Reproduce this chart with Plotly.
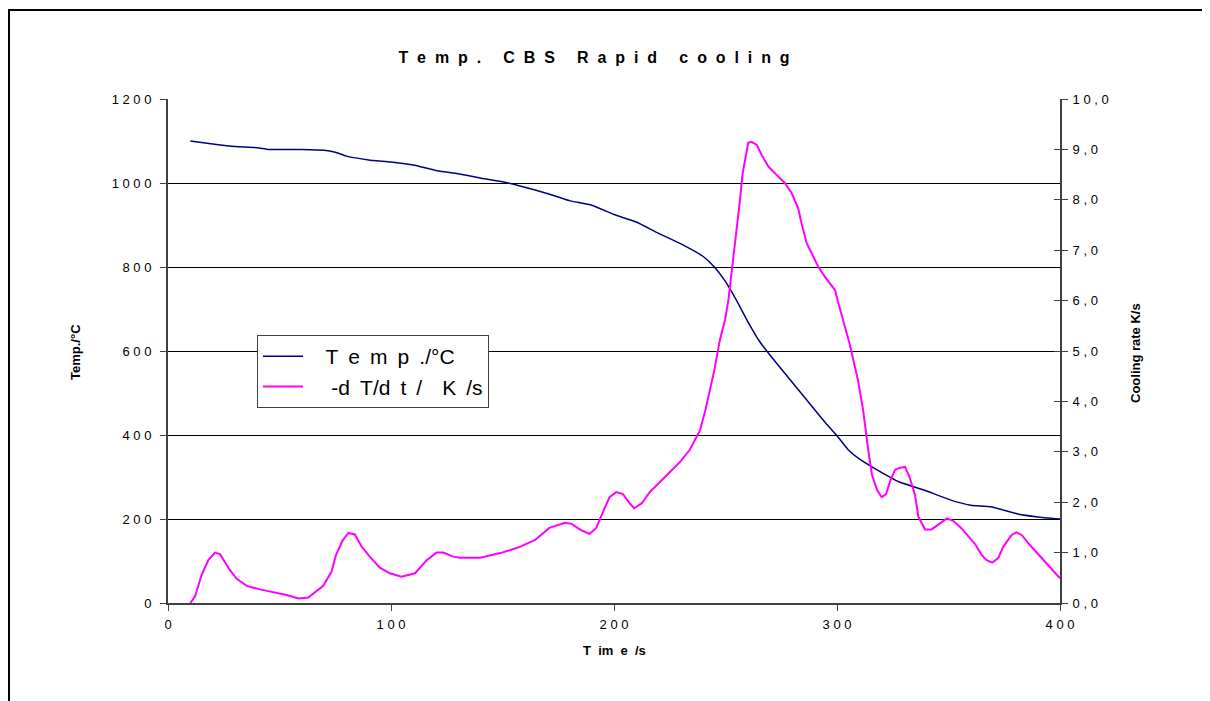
import plotly.graph_objects as go

# ---- data ----
time_temp = [10, 20, 30, 40, 45, 50, 60, 70, 75, 80, 90, 100, 110, 120, 130, 140, 150, 160,
             170, 180, 190, 200, 210, 220, 230, 240, 245, 250, 255, 260, 265, 270, 280, 290,
             295, 300, 305, 310, 317, 328, 339, 351, 360, 369, 381, 390, 400]
temp = [1100, 1093, 1087, 1084, 1080, 1080, 1080, 1078, 1073, 1064, 1055, 1050, 1043, 1030,
        1022, 1012, 1003, 990, 975, 958, 947, 925, 907, 880, 855, 825, 800, 765, 720, 670,
        625, 590, 525, 460, 428, 398, 365, 343, 320, 288, 269, 245, 233, 229, 212, 205, 200]

time_rate = [10, 12.1, 15.1, 18.1, 21.1, 23.3, 27.8, 30.8, 35.3, 41.2, 53.2, 58.4, 62.9, 69.6,
             73.3, 75.3, 78.3, 80.9, 83.8, 86.8, 90.5, 95, 99.5, 104.7, 110.8, 116, 120.4,
             123.4, 127.9, 131, 140, 149, 157, 164.6, 171, 178, 181, 185, 189, 192, 195, 198,
             201, 204, 207, 209, 212.5, 216, 220.6, 225, 229.6, 234, 238.6, 241, 243, 245,
             247.5, 249.8, 251.3, 252.8, 254, 255.3, 256.5, 257.7, 259.2, 260.2, 261.7, 264,
             266.2, 269.2, 273, 276.7, 279.7, 282.6, 284.1, 286.4, 289.4, 291.6, 294.6, 299.1,
             300.6, 302.8, 305.8, 309.4, 311.7, 314, 315.7, 318, 320, 322, 324, 326, 328,
             330.5, 332.7, 335, 336.5, 339.5, 342.4, 346.2, 349.2, 352.1, 355.9, 358.9, 361.9,
             364.9, 367.1, 369.6, 372.3, 374.6, 376.8, 378.3, 380.5, 382.8, 386.5, 392.5, 400]
rate = [0.0, 0.13, 0.56, 0.85, 1.0, 0.97, 0.65, 0.48, 0.34, 0.27, 0.16, 0.09, 0.11, 0.34,
        0.62, 0.95, 1.24, 1.39, 1.36, 1.12, 0.92, 0.70, 0.59, 0.52, 0.59, 0.85, 1.0,
        1.0, 0.92, 0.90, 0.90, 0.99, 1.1, 1.25, 1.49, 1.59, 1.57, 1.45, 1.37, 1.49, 1.8, 2.1,
        2.2, 2.16, 1.98, 1.88, 1.98, 2.2, 2.4, 2.6, 2.8, 3.04, 3.43, 3.83, 4.23, 4.62,
        5.22, 5.62, 6.01, 6.55, 7.07, 7.53, 8.0, 8.53, 8.89, 9.13, 9.15, 9.09,
        8.89, 8.66, 8.49, 8.33, 8.13, 7.83, 7.53, 7.14, 6.87, 6.67, 6.47, 6.21,
        5.95, 5.62, 5.12, 4.42, 3.83, 3.04, 2.54, 2.24, 2.1, 2.16, 2.44, 2.64, 2.68,
        2.7, 2.48, 2.14, 1.71, 1.46, 1.46, 1.58, 1.68, 1.63, 1.48, 1.32, 1.17,
        0.95, 0.85, 0.80, 0.89, 1.12, 1.25, 1.35, 1.40, 1.35, 1.15, 0.85, 0.49]

x_ticks = [0, 100, 200, 300, 400]
x_tick_text = ["0", "1 0 0", "2 0 0", "3 0 0", "4 0 0"]
y_ticks = [0, 200, 400, 600, 800, 1000, 1200]
y_tick_text = ["0", "2 0 0", "4 0 0", "6 0 0", "8 0 0", "1 0 0 0", "1 2 0 0"]
y2_ticks = [0, 1, 2, 3, 4, 5, 6, 7, 8, 9, 10]
y2_tick_text = ["0 , 0", "1 , 0", "2 , 0", "3 , 0", "4 , 0", "5 , 0", "6 , 0", "7 , 0",
                "8 , 0", "9 , 0", "1 0 , 0"]
legend_names = ["T e m p ./°C", "-d T/d t /  K /s"]

FONT = "Arial, Liberation Sans, sans-serif"
NB = "\u00a0"
THIN = "\u2009"


def nb(s):
    return s.replace(" ", NB)


def spaced(s, gap=2, word=5):
    words = s.split(" ")
    return (NB * word).join((NB * gap).join(list(w)) for w in words)


# Page body has an 8px margin: figure is sized/placed so the plot area lands at
# window x 168..1060, y 99..603.
W, H = 1202, 693
OFF = 8

name_temp = NB * 3 + legend_names[0].replace(" ", NB + THIN)
name_rate = NB * 4 + legend_names[1].replace(" ", NB + THIN)

fig = go.Figure()
fig.add_trace(go.Scatter(x=time_temp, y=temp, mode="lines", name=name_temp,
                         line=dict(color="#000080", width=1.5, shape="spline", smoothing=0.4),
                         yaxis="y", legendgroup="a"))
fig.add_trace(go.Scatter(x=time_rate, y=rate, mode="lines", name=name_rate,
                         line=dict(color="#FF00FF", width=2), yaxis="y2",
                         legendgroup="b"))
fig.add_trace(go.Scatter(x=[None], y=[None], yaxis="y3", showlegend=False, hoverinfo="skip"))

axis_col = "#404040"
fig.update_layout(
    width=W, height=H,
    paper_bgcolor="white", plot_bgcolor="white",
    margin=dict(l=168 - OFF, r=W - (1060 - OFF), t=99 - OFF, b=H - (603 - OFF)),
    font=dict(family=FONT, size=13, color="black"),
    title=dict(text="<b>" + spaced("Temp. CBS Rapid cooling") + "</b>",
               x=(594 - OFF) / W, xanchor="center", xref="container",
               y=1 - (57 - OFF) / H, yanchor="middle", yref="container",
               font=dict(family=FONT, size=16, color="black")),
    xaxis=dict(range=[0, 400], tickvals=x_ticks, ticktext=[nb(t) for t in x_tick_text],
               showgrid=False, zeroline=False, showline=True, linecolor=axis_col,
               linewidth=2, ticks="outside", ticklen=6, tickcolor=axis_col, tickwidth=1,
               ticklabelstandoff=2, tickfont=dict(size=13)),
    yaxis=dict(range=[0, 1200], tickvals=y_ticks, ticktext=[nb(t) for t in y_tick_text],
               showgrid=True, gridcolor="black", gridwidth=1, zeroline=False,
               showline=True, linecolor=axis_col, linewidth=2, ticks="outside",
               ticklen=6, tickcolor=axis_col, tickwidth=1, ticklabelstandoff=6,
               tickfont=dict(size=13)),
    yaxis2=dict(range=[0, 10], tickvals=y2_ticks, ticktext=[nb(t) for t in y2_tick_text],
                overlaying="y", side="right", showgrid=False, zeroline=False,
                showline=True, linecolor=axis_col, linewidth=2, ticks="outside",
                ticklen=6, tickcolor=axis_col, tickwidth=1, ticklabelstandoff=2,
                tickfont=dict(size=13)),
    yaxis3=dict(range=[0, 10], tickvals=y2_ticks, overlaying="y", side="right",
                showgrid=False, zeroline=False, showline=False, ticks="inside",
                ticklen=6, tickcolor=axis_col, tickwidth=1, showticklabels=False),
    legend=dict(x=(257 - 168) / 892, y=(603 - 335) / 504, xanchor="left", yanchor="top",
                bgcolor="white", bordercolor="#404040", borderwidth=1,
                font=dict(family=FONT, size=21, color="black"),
                traceorder="grouped", tracegroupgap=0, itemwidth=40),
    showlegend=True,
)

ann_font = dict(family=FONT, size=13, color="black")
fig.add_annotation(text="<b>Temp./°C</b>", xref="paper", yref="paper",
                   x=(75 - 168) / 892, y=(603 - 352) / 504, textangle=-90,
                   showarrow=False, xanchor="center", yanchor="middle", font=ann_font)
fig.add_annotation(text="<b>Cooling rate K/s</b>", xref="paper", yref="paper",
                   x=(1135 - 168) / 892, y=(603 - 353) / 504, textangle=-90,
                   showarrow=False, xanchor="center", yanchor="middle", font=ann_font)
fig.add_annotation(text="<b>" + nb("T  im  e  /s") + "</b>", xref="paper", yref="paper",
                   x=(614 - 168) / 892, y=(603 - 650) / 504,
                   showarrow=False, xanchor="center", yanchor="middle", font=ann_font)

# outer chart border (top and left edges visible)
fig.add_shape(type="rect", xref="paper", yref="paper",
              x0=(9 - 168) / 892, x1=(1260 - 168) / 892,
              y0=(603 - 760) / 504, y1=(603 - 10) / 504,
              line=dict(color="black", width=2), fillcolor="rgba(0,0,0,0)", layer="below")

fig.write_html("out.html")
